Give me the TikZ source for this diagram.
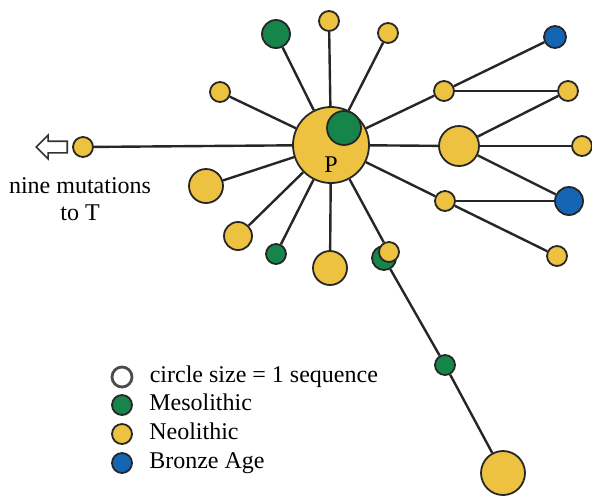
\documentclass[tikz,border=0pt]{standalone}
\usepackage{fontspec}
\setmainfont{Liberation Serif}
\usetikzlibrary{positioning, shapes.arrows}
\definecolor{neoyel}{RGB}{237,194,64}
\definecolor{mesogreen}{RGB}{22,133,74}
\definecolor{bronzeblue}{RGB}{21,101,181}
\tikzset{
    hap/.style={circle, draw=black!85, line width=0.9pt, inner sep=0pt, minimum size=#1},
    neo/.style={hap=#1, fill=neoyel},
    meso/.style={hap=#1, fill=mesogreen},
    bronze/.style={hap=#1, fill=bronzeblue},
    link/.style={draw=black!85, line width=1.2pt},
    keytext/.style={inner sep=0pt, text height=1.6ex, text depth=0.3ex},
}

\begin{document}
\begin{tikzpicture}[x=0.5pt, y=-0.5pt, font=\rmfamily\fontsize{12}{13.5}\selectfont]
\useasboundingbox (0,0) rectangle (592,500);

    % Central haplotype
    \node[neo=38pt] (P) at (331,145) {};
    \node[meso=17pt] (Pm) at (344,128) {};
    \node (Plabel) at (331,165) {P};

    % Haplotypes around P
    \node[neo=10pt] (n0) at (83,147) {};
    \node[meso=14pt] (m1) at (276,34) {};
    \node[neo=10pt] (n1) at (329,21) {};
    \node[neo=10pt] (n2) at (388,33) {};
    \node[neo=10pt] (n3) at (220,92) {};
    \node[neo=10pt] (h1) at (444,91) {};
    \node[neo=20pt] (h2) at (459,146) {};
    \node[neo=10pt] (h3) at (445,201) {};
    \node[neo=17pt] (n4) at (206,186) {};
    \node[neo=14pt] (n5) at (238,236) {};
    \node[meso=10pt] (m2) at (276,254) {};
    \node[neo=17pt] (n6) at (330,268) {};
    \node[meso=12pt] (m3) at (384,258) {};
    \node[neo=10pt] (n7) at (389,252) {};
    \node[meso=10pt] (m4) at (445,365) {};
    \node[neo=22pt] (n8) at (503,473) {};

    % Right branch
    \node[bronze=11pt] (b1) at (555,37) {};
    \node[neo=10pt] (r1) at (568,91) {};
    \node[neo=10pt] (r2) at (582,146) {};
    \node[bronze=14pt] (b2) at (569,201) {};
    \node[neo=10pt] (r3) at (557,256) {};

    % Links
    \foreach \t in {n0,m1,n1,n2,n3,h1,h2,h3,n4,n5,m2,n6,n7}
        \draw[link] (P) -- (\t);
    \draw[link] (m3) -- (m4) -- (n8);
    \draw[link] (h1) -- (b1);
    \draw[link] (h1) -- (r1);
    \draw[link] (h2) -- (r1);
    \draw[link] (h2) -- (r2);
    \draw[link] (h2) -- (b2);
    \draw[link] (h3) -- (b2);
    \draw[link] (h3) -- (r3);

    % Outgroup arrow
    \node[single arrow, draw=black!80, fill=white, line width=0.8pt, shape border rotate=180, inner sep=2.5pt, single arrow head extend=3pt, minimum height=15.5pt, left=2pt of n0] (arr) {};
    \node[align=center] (mut) at (80,199) {nine mutations\\to T};

    % Legend
    \node[hap=10pt, fill=white, draw=black!70, line width=1.4pt] (k0) at (122,377) {};
    \node[meso=10pt] (k1) at (122,405) {};
    \node[neo=10pt] (k2) at (122,434) {};
    \node[bronze=10pt] (k3) at (122,463) {};
    \node[keytext, right=8pt of k0] (k0txt) {circle size = 1 sequence};
    \node[keytext, right=8pt of k1] (k1txt) {Mesolithic};
    \node[keytext, right=8pt of k2] (k2txt) {Neolithic};
    \node[keytext, right=8pt of k3] (k3txt) {Bronze Age};

\end{tikzpicture}
\end{document}
